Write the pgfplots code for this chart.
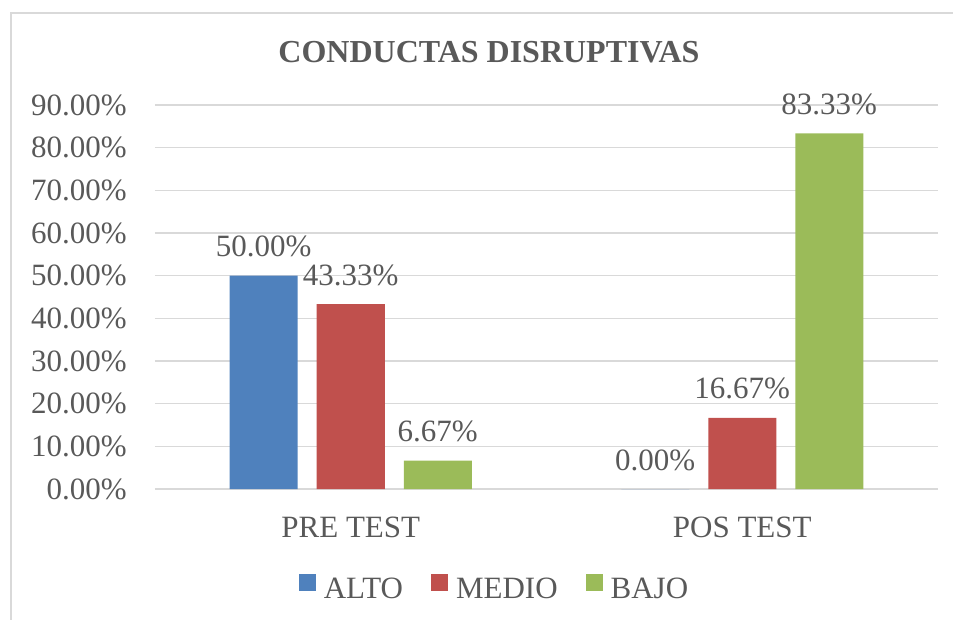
\documentclass[border=0pt]{standalone}
\usepackage{pgfplots}
\pgfplotsset{compat=1.18}
\usepackage{fontspec}
\setmainfont{Liberation Serif}
\definecolor{cAlto}{HTML}{4F81BD}
\definecolor{cMedio}{HTML}{C0504D}
\definecolor{cBajo}{HTML}{9BBB59}
\definecolor{txt}{HTML}{595959}
\definecolor{grd}{HTML}{D9D9D9}
\newcommand\lf{\fontsize{31bp}{37bp}\selectfont}

\begin{document}
\begin{tikzpicture}
\path[use as bounding box] (-155bp,-131bp) rectangle (798bp,489bp);
\draw[grd, line width=1.5bp] (-144bp,-131bp) -- (-144bp,476bp) -- (798bp,476bp);
\begin{axis}[
  at={(0,0)}, anchor=south west,
  scale only axis, width=783bp, height=384bp,
  ymin=0, ymax=90, xmin=-0.5, xmax=1.5,
  ybar=19bp, bar width=68bp,
  clip=false,
  xtick={0,1}, xticklabels={PRE TEST,POS TEST},
  ytick={0,10,...,90},
  yticklabel={\pgfmathprintnumber[fixed,fixed zerofill,precision=2]{\tick}\%},
  /pgf/number format/assume math mode=true,
  ymajorgrids, grid style={grd, line width=1.5bp},
  axis line style={draw=none},
  major tick length=0pt,
  tick label style={font=\lf, text=txt, inner sep=0pt},
  yticklabel style={anchor=east, xshift=-28bp},
  xticklabel style={anchor=base, yshift=-48bp},
  nodes near coords={\pgfmathprintnumber[fixed,fixed zerofill,precision=2]{\pgfplotspointmeta}\%},
  every node near coord/.append style={font=\lf, text=txt, anchor=base, yshift=19bp, inner sep=0pt},
  legend style={at={(0.4323,-0.2396)}, anchor=center, draw=none, fill=none,
    font=\lf, text=txt, nodes={inner sep=0pt}},
  legend columns=3,
  /tikz/every odd column/.append style={column sep=8bp},
  /tikz/every even column/.append style={column sep=28bp},
  legend image code/.code={\path[fill=none, draw=none] (0bp,-3bp) rectangle (17bp,26bp);
    \fill[#1] (0bp,-3bp) rectangle (17bp,14bp);},
]
\addplot[fill=cAlto, draw=none] coordinates {(0,50.00) (1,0.00)};
\addplot[fill=cMedio, draw=none] coordinates {(0,43.33) (1,16.67)};
\addplot[fill=cBajo, draw=none] coordinates {(0,6.67) (1,83.33)};
\legend{ALTO,MEDIO,BAJO}
\end{axis}
\node[font=\bfseries\fontsize{32bp}{38bp}\selectfont, text=txt, anchor=base] at (334bp,426bp) {CONDUCTAS DISRUPTIVAS};
\end{tikzpicture}
\end{document}
